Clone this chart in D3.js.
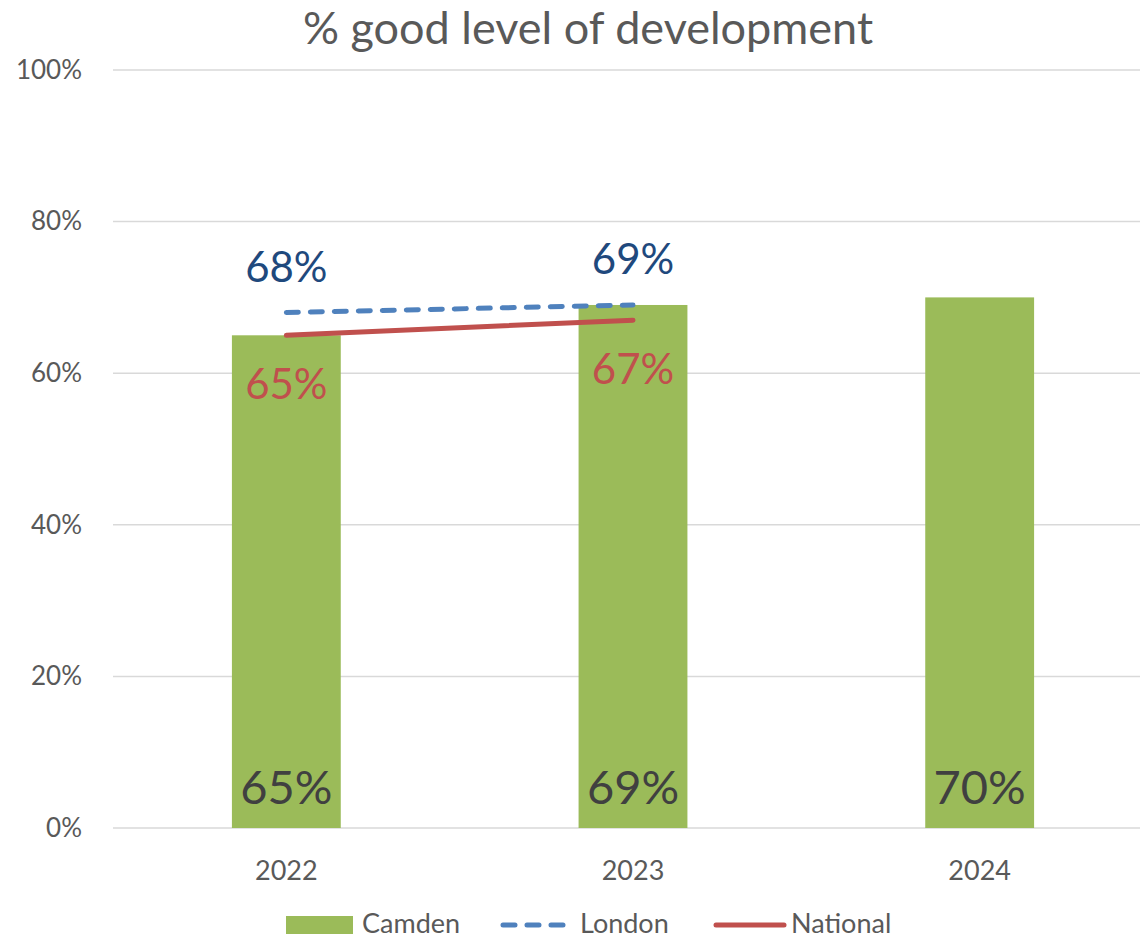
<!DOCTYPE html>
<html><head><meta charset="utf-8">
<script src="https://cdn.jsdelivr.net/npm/d3@7"></script>
<style>body{margin:0;background:#fff}svg{display:block;font-family:Lato,"Open Sans",sans-serif}</style>
</head><body><svg id="c" width="1140" height="938"></svg>
<script>
const years = ["2022","2023","2024"];
const camden = [0.65,0.69,0.70];
const london = [0.68,0.69,null];
const national = [0.65,0.67,null];
const yTicks = [0,0.2,0.4,0.6,0.8,1.0];

const svg = d3.select("#c");
const FF = "Lato,'Open Sans',sans-serif";
const x = d3.scaleBand().domain(years).range([113,1153]).paddingInner(0.686).paddingOuter(0.343);
const y = d3.scaleLinear().domain([0,1]).range([828,70]);
const pct = d3.format(".0%");

svg.append("text").attr("x",588).attr("y",44).attr("text-anchor","middle")
  .attr("font-size",45).attr("fill","#595959").text("% good level of development");

// grid
svg.append("g").selectAll("line").data(yTicks).join("line")
  .attr("x1",113).attr("x2",1140).attr("y1",d=>y(d)).attr("y2",d=>y(d))
  .attr("stroke","#d9d9d9").attr("stroke-width",1.5);

// y axis labels
const yAxis = d3.axisLeft(y).tickValues(yTicks).tickFormat(pct).tickSize(0).tickPadding(0);
const ya = svg.append("g").attr("transform","translate(82,0)").call(yAxis);
ya.select(".domain").remove();
ya.selectAll("text").attr("font-size",26).attr("fill","#595959").attr("font-family",FF);

// x axis labels
const xAxis = d3.axisBottom(x).tickSize(0).tickPadding(0);
const xa = svg.append("g").call(xAxis);
xa.select(".domain").remove();
xa.selectAll("text").attr("y",880).attr("dy",0).attr("font-size",27).attr("fill","#595959").attr("font-family",FF);

// bars
svg.append("g").selectAll("rect").data(camden).join("rect")
  .attr("x",(d,i)=>x(years[i])).attr("width",x.bandwidth())
  .attr("y",d=>y(d)).attr("height",d=>y(0)-y(d)).attr("fill","#9bbb59");

svg.append("g").selectAll("text").data(camden).join("text")
  .attr("x",(d,i)=>x(years[i])+x.bandwidth()/2).attr("y",804)
  .attr("text-anchor","middle").attr("font-size",47).attr("fill","#404040").text(d=>pct(d));

const cx = (d,i)=>x(years[i])+x.bandwidth()/2;
const line = d3.line().defined(d=>d!=null).x(cx).y(d=>y(d));

svg.append("path").datum(national).attr("d",line).attr("fill","none")
  .attr("stroke","#c0504d").attr("stroke-width",5).attr("stroke-linecap","round");
svg.append("path").datum(london).attr("d",line).attr("fill","none")
  .attr("stroke","#4f81bd").attr("stroke-width",5).attr("stroke-linecap","round").attr("stroke-dasharray","12,12");

svg.append("g").selectAll("text").data(london.map((d,i)=>({d,i})).filter(o=>o.d!=null)).join("text")
  .attr("x",o=>cx(o.d,o.i)).attr("y",o=>y(o.d)-31).attr("text-anchor","middle")
  .attr("font-size",42).attr("fill","#1f497d").text(o=>pct(o.d));
svg.append("g").selectAll("text").data(national.map((d,i)=>({d,i})).filter(o=>o.d!=null)).join("text")
  .attr("x",o=>cx(o.d,o.i)).attr("y",o=>y(o.d)+64).attr("text-anchor","middle")
  .attr("font-size",42).attr("fill","#c0504d").text(o=>pct(o.d));

// legend
const lg = svg.append("g").attr("font-size",27).attr("fill","#595959");
lg.append("rect").attr("x",286).attr("y",916).attr("width",67).attr("height",18).attr("fill","#9bbb59");
lg.append("text").attr("x",362).attr("y",933).text("Camden");
lg.append("line").attr("x1",503).attr("x2",567).attr("y1",925).attr("y2",925).attr("stroke","#4f81bd").attr("stroke-width",5).attr("stroke-linecap","round").attr("stroke-dasharray","12,12");
lg.append("text").attr("x",580).attr("y",933).text("London");
lg.append("line").attr("x1",716).attr("x2",784).attr("y1",925).attr("y2",925).attr("stroke","#c0504d").attr("stroke-width",5).attr("stroke-linecap","round");
lg.append("text").attr("x",791).attr("y",933).text("National");
</script></body></html>
